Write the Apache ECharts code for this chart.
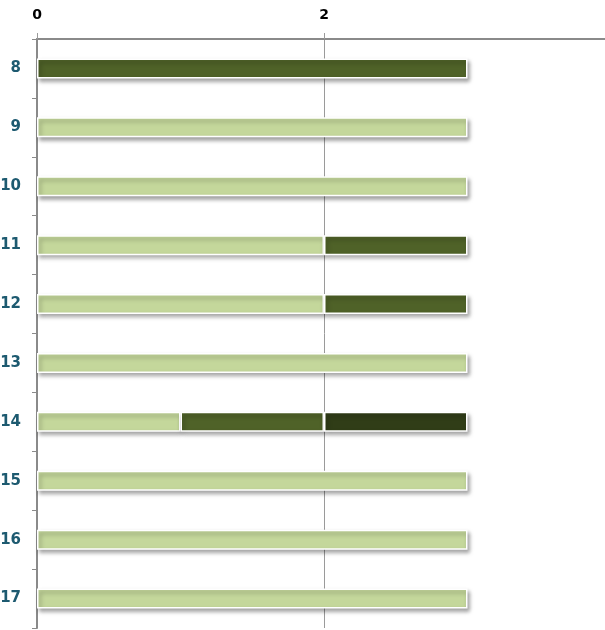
<!DOCTYPE html>
<html>
<head>
<meta charset="utf-8">
<script src="https://cdn.jsdelivr.net/npm/echarts@6/dist/echarts.min.js"></script>
<style>
  html, body { margin: 0; padding: 0; background: #fff; }
  #main { width: 605px; height: 630px; }
</style>
</head>
<body>
<div id="main"></div>
<script>
// categories, top to bottom
const categories = ['8', '9', '10', '11', '12', '13', '14', '15', '16', '17'];
// stacked segments, left to right
const lightVals = [0, 3, 3, 2, 2, 3, 1, 3, 3, 3];
const midVals   = [3, 0, 0, 1, 1, 0, 1, 0, 0, 0];
const darkVals  = [0, 0, 0, 0, 0, 0, 1, 0, 0, 0];
const xTicks = [0, 2, 4];

const chart = echarts.init(document.getElementById('main'), null, {renderer: 'canvas'});

function seg(name, vals, color) {
    return {
        name: name,
        type: 'bar',
        stack: 'total',
        barWidth: 20,
        // zero-width pieces would still draw their border, so skip them
        data: vals.map(v => v === 0 ? '-' : v),
        itemStyle: {
            color: color,
            borderColor: '#ffffff',
            borderWidth: 1.5,
            shadowColor: 'rgba(0,0,0,0.35)',
            shadowBlur: 4,
            shadowOffsetX: 2,
            shadowOffsetY: 3
        },
        emphasis: {disabled: true}
    };
}

chart.setOption({
    animation: false,
    // the "4" end of the axis sits just off the right edge
    grid: {left: 37, right: -6, top: 39, bottom: 2, containLabel: false, outerBoundsMode: 'none'},
    xAxis: {
        type: 'value',
        position: 'top',
        min: xTicks[0],
        max: xTicks[xTicks.length - 1],
        interval: 2,
        axisLine: {show: true, lineStyle: {color: '#8a8a8a', width: 2}},
        axisTick: {show: true, length: 6, lineStyle: {color: '#9a9a9a'}},
        axisLabel: {
            margin: 17,
            color: '#000',
            fontFamily: 'DejaVu Sans',
            fontWeight: 'bold',
            fontSize: 14,
            showMaxLabel: false
        },
        splitLine: {show: true, lineStyle: {color: '#9a9a9a', width: 1}}
    },
    yAxis: {
        type: 'category',
        inverse: true,
        data: categories,
        axisLine: {show: true, lineStyle: {color: '#8a8a8a', width: 2}},
        axisTick: {show: true, length: 5, lineStyle: {color: '#8a8a8a'}},
        axisLabel: {
            margin: 16,
            color: '#1d5a70',
            fontFamily: 'DejaVu Sans',
            fontWeight: 'bold',
            fontSize: 15
        },
        splitLine: {show: false}
    },
    series: [
        seg('light', lightVals, '#c4d79b'),
        seg('mid', midVals, '#4f6228'),
        seg('dark', darkVals, '#303d17')
    ]
});
</script>
</body>
</html>
